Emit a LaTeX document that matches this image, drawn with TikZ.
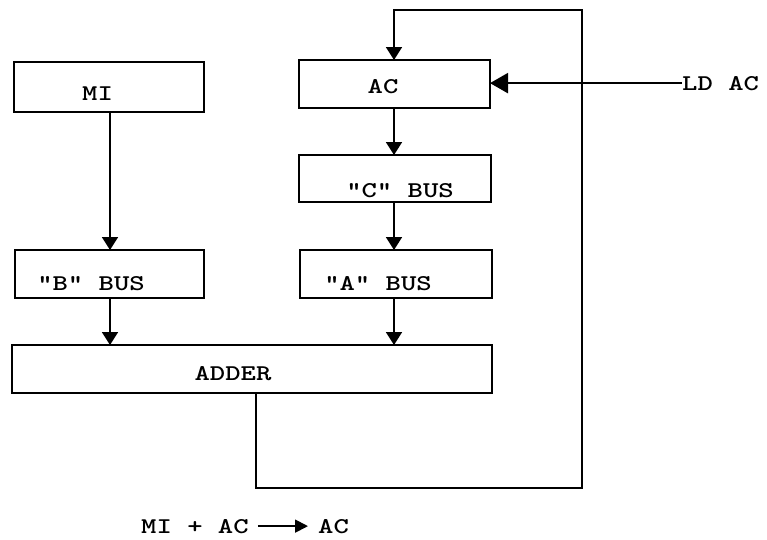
\documentclass[tikz,border=0pt]{standalone}
\usepackage{fontspec}
\usepackage{graphicx}
\usetikzlibrary{arrows.meta}
\newcommand{\tw}[1]{\scalebox{1.3}[1]{#1}}
\tikzset{
  box/.style={draw, line width=2.6pt, minimum width=#1, outer sep=0pt, inner sep=0pt},
  box/.default=190pt,
  txt/.style={font={\fontsize{22.5}{27}\selectfont\ttfamily\bfseries}, inner sep=0pt, anchor=base},
  conn/.style={line width=1.8pt, -{Triangle[width=16pt,length=13pt]}},
  ldarr/.style={line width=2.2pt, -{Triangle[width=20pt,length=18pt]}},
  eqarr/.style={line width=1.8pt, -{Triangle[width=13pt,length=13pt]}},
}
\begin{document}
\begin{tikzpicture}[x=1pt,y=-1pt]
\path[use as bounding box] (0,0) rectangle (767,539);
% boxes
\node[box=190pt, minimum height=50pt] (mi) at (109,87) {};
\node[box=191pt, minimum height=48pt] (ac) at (394.5,84) {};
\node[box=192pt, minimum height=47pt] (cbus) at (395,178.5) {};
\node[box=189pt, minimum height=48pt] (bbus) at (109.5,274) {};
\node[box=192pt, minimum height=48pt] (abus) at (396,274) {};
\node[box=480pt, minimum height=48pt] (adder) at (252,369) {};
% labels
\node[txt] (tmi) at (97.5,100) {\tw{MI}};
\node[txt] (tac) at (383,93) {\tw{AC}};
\node[txt] (tc) at (400,197) {\tw{"C" BUS}};
\node[txt] (tb) at (91,290) {\tw{"B" BUS}};
\node[txt] (ta) at (378,290) {\tw{"A" BUS}};
\node[txt] (tadd) at (233,380) {\tw{ADDER}};
\node[txt, anchor=base west] (ld) at (682,90) {\tw{LD AC}};
\node[txt, anchor=base west] (eq1) at (141,533) {\tw{MI + AC}};
\node[txt, anchor=base west] (eq2) at (318,533) {\tw{AC}};
% connectors
\coordinate (lx) at (110,0);
\coordinate (rx) at (394,0);
\draw[conn] (mi.south -| lx) -- (bbus.north -| lx);
\draw[conn] (bbus.south -| lx) -- (adder.north -| lx);
\draw[conn] (ac.south -| rx) -- (cbus.north -| rx);
\draw[conn] (cbus.south -| rx) -- (abus.north -| rx);
\draw[conn] (abus.south -| rx) -- (adder.north -| rx);
\coordinate (c1) at (256,488);
\coordinate (c2) at (582,488);
\coordinate (c3) at (582,10);
\coordinate (c4) at (394,10);
\draw[conn] (adder.south -| c1) -- (c1) -- (c2) -- (c3) -- (c4) -- (ac.north -| c4);
\draw[ldarr] (ld.west) -- (ac.east |- ld.west);
\draw[eqarr, shorten <=9pt, shorten >=10pt] (eq1.east) -- (eq2.west);
\end{tikzpicture}
\end{document}
